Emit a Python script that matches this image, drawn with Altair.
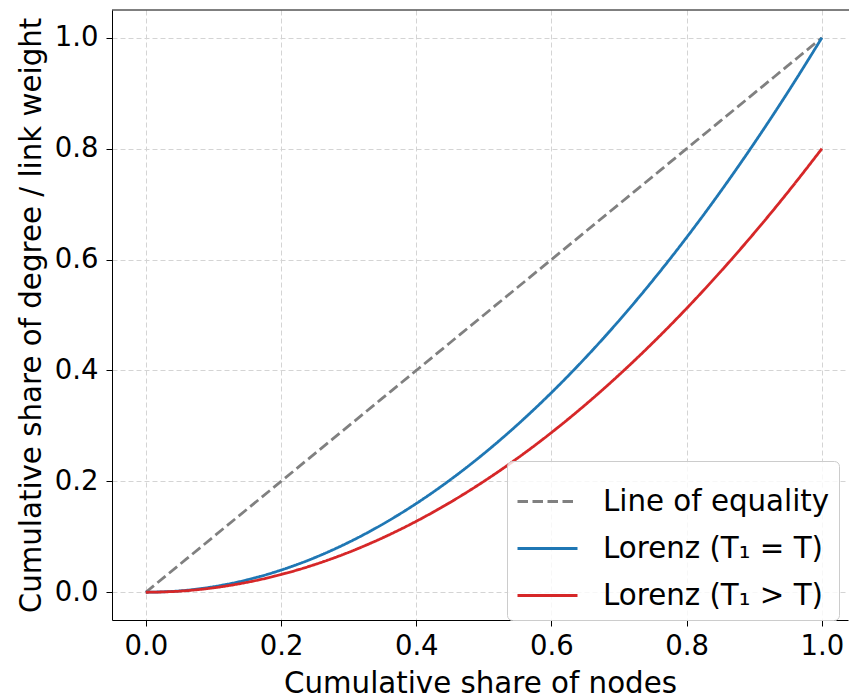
import altair as alt
import pandas as pd

# Cumulative share of nodes
share_nodes = [0.0, 0.05, 0.1, 0.15, 0.2, 0.25, 0.3, 0.35, 0.4, 0.45, 0.5,
               0.55, 0.6, 0.65, 0.7, 0.75, 0.8, 0.85, 0.9, 0.95, 1.0]
# Line of equality
equality = [0.0, 0.05, 0.1, 0.15, 0.2, 0.25, 0.3, 0.35, 0.4, 0.45, 0.5,
            0.55, 0.6, 0.65, 0.7, 0.75, 0.8, 0.85, 0.9, 0.95, 1.0]
# Lorenz curve, T1 = T
lorenz_eq = [0.0, 0.0025, 0.01, 0.0225, 0.04, 0.0625, 0.09, 0.1225, 0.16, 0.2025, 0.25,
             0.3025, 0.36, 0.4225, 0.49, 0.5625, 0.64, 0.7225, 0.81, 0.9025, 1.0]
# Lorenz curve, T1 > T
lorenz_gt = [0.0, 0.002, 0.008, 0.018, 0.032, 0.05, 0.072, 0.098, 0.128, 0.162, 0.2,
             0.242, 0.288, 0.338, 0.392, 0.45, 0.512, 0.578, 0.648, 0.722, 0.8]

series_names = ["Line of equality", "Lorenz (T\u2081 = T)", "Lorenz (T\u2081 > T)"]
series_colors = ["#808080", "#1f77b4", "#d62728"]
series_dashes = [[10.5, 4.5], [1, 0], [1, 0]]

rows = []
for name, vals in zip(series_names, [equality, lorenz_eq, lorenz_gt]):
    for x, y in zip(share_nodes, vals):
        rows.append({"x": x, "y": y, "series": name})
df = pd.DataFrame(rows)

W, H = 736, 610
FONT = "DejaVu Sans"
FS = 27.5
TITLE_FS = 29.3

legend = alt.Legend(title=None, orient="none", legendX=395, legendY=451)

lines = alt.Chart(df).mark_line(strokeWidth=2.8, interpolate="monotone").encode(
    x=alt.X("x:Q",
            scale=alt.Scale(domain=[-0.05, 1.0386], nice=False, zero=False),
            axis=alt.Axis(values=[0, 0.2, 0.4, 0.6, 0.8, 1.0], format=".1f",
                          title="Cumulative share of nodes",
                          labelPadding=6, titlePadding=10)),
    y=alt.Y("y:Q",
            scale=alt.Scale(domain=[-0.05, 1.05], nice=False, zero=False),
            axis=alt.Axis(values=[0, 0.2, 0.4, 0.6, 0.8, 1.0], format=".1f",
                          title="Cumulative share of degree / link weight",
                          labelPadding=8, titlePadding=8)),
    color=alt.Color("series:N",
                    scale=alt.Scale(domain=series_names, range=series_colors),
                    legend=legend),
    strokeDash=alt.StrokeDash("series:N",
                              scale=alt.Scale(domain=series_names, range=series_dashes),
                              legend=legend),
    detail="series:N",
)

top_spine = alt.Chart(pd.DataFrame({"k": [0]})).mark_rule(color="black", strokeWidth=1).encode(
    y=alt.value(0), x=alt.value(0), x2=alt.value(W + 2)
)

chart = alt.layer(lines, top_spine).properties(
    width=W, height=H,
    autosize=alt.AutoSizeParams(type="none"),
    padding={"left": 112, "top": 10, "right": 1, "bottom": 80},
).configure_view(
    stroke=None
).configure_axis(
    labelFont=FONT, titleFont=FONT,
    labelFontSize=FS, titleFontSize=TITLE_FS,
    labelColor="black", titleColor="black",
    titleFontWeight="normal",
    domainColor="black", domainWidth=1,
    tickColor="black", tickSize=6, tickWidth=1,
    grid=True, gridColor="#d4d4d4", gridDash=[5, 3], gridWidth=1,
).configure_legend(
    labelFont=FONT, labelFontSize=TITLE_FS, labelColor="black", labelLimit=500,
    symbolType="stroke", symbolSize=3600, symbolStrokeWidth=2.8,
    strokeColor="#cccccc", fillColor="rgba(255,255,255,0.8)",
    cornerRadius=5, padding=9, rowPadding=0, labelOffset=24,
)

chart.save("out.html", embed_options={"renderer": "svg", "actions": False})
